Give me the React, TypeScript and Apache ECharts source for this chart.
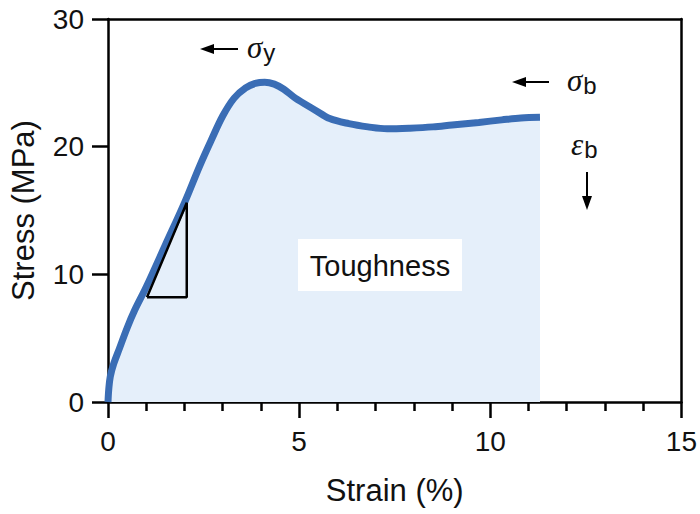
import React, { useEffect, useRef } from "react";
import * as echarts from "echarts";

const strain = [0, 0.02, 0.06, 0.15, 0.3, 0.5, 0.7, 1.0, 1.5, 2.0, 2.4, 2.7, 3.0, 3.3, 3.6, 3.85, 4.1, 4.35, 4.6, 4.9, 5.4, 5.8, 6.3, 6.8, 7.3, 7.9, 8.5, 9.0, 9.7, 10.3, 10.8, 11.3];
const stress = [0, 1.0, 2.0, 3.0, 4.2, 5.8, 7.2, 9.0, 12.3, 15.6, 18.5, 20.5, 22.4, 23.8, 24.6, 24.95, 25.05, 24.9, 24.5, 23.8, 22.9, 22.2, 21.8, 21.55, 21.4, 21.45, 21.55, 21.7, 21.9, 22.1, 22.25, 22.3];
const triangleX = [1.02, 2.06, 2.06, 1.02];
const triangleY = [8.2, 8.2, 15.6, 8.2];

const FONT = "Liberation Sans, Arial, sans-serif";
const SERIF = "Liberation Serif, Times New Roman, serif";

function arrow(x1: number, y1: number, x2: number, y2: number) {
  const dx = x2 - x1, dy = y2 - y1;
  const len = Math.sqrt(dx * dx + dy * dy);
  const ux = dx / len, uy = dy / len;
  const hl = 14, hw = 5;
  const bx = x2 - ux * hl, by = y2 - uy * hl;
  return [
    { type: "line", shape: { x1, y1, x2: bx + ux * 2, y2: by + uy * 2 }, style: { stroke: "#000", lineWidth: 2 } },
    {
      type: "polygon",
      shape: { points: [[x2, y2], [bx - uy * hw, by + ux * hw], [bx + uy * hw, by - ux * hw]] },
      style: { fill: "#000" },
    },
  ];
}

function symText(sym: string, sub: string, left: number, top: number) {
  return {
    type: "text",
    left,
    top,
    style: {
      text: `{s|${sym}}{b|${sub}}`,
      rich: {
        s: { fontFamily: SERIF, fontStyle: "italic", fontSize: 31, fill: "#111", lineHeight: 34 },
        b: { fontFamily: FONT, fontSize: 24, fill: "#111", padding: [10, 0, 0, 1], lineHeight: 34 },
      },
    },
  };
}

export default function App() {
  const ref = useRef<HTMLDivElement>(null);
  useEffect(() => {
    const chart = echarts.init(ref.current!, null, { renderer: "svg" });
    const curve = strain.map((x, i) => [x, stress[i]]);
    const tri = triangleX.map((x, i) => [x, triangleY[i]]);
    const axisLine = { onZero: false, lineStyle: { color: "#000", width: 2.5 } };
    chart.setOption({
      animation: false,
      backgroundColor: "#fff",
      grid: { left: 106, right: 18, top: 19, bottom: 112, containLabel: false },
      xAxis: [
        {
          type: "value",
          min: 0,
          max: 15,
          interval: 5,
          name: "Strain (%)",
          nameLocation: "middle",
          nameGap: 73,
          nameTextStyle: { fontFamily: FONT, fontSize: 31, color: "#111" },
          axisLine,
          axisTick: { show: true, length: 16, lineStyle: { color: "#000", width: 2.5 } },
          minorTick: { show: true, splitNumber: 5, length: 9, lineStyle: { color: "#000", width: 2.5 } },
          splitLine: { show: false },
          minorSplitLine: { show: false },
          axisLabel: { fontFamily: FONT, fontSize: 28, color: "#111", margin: 25 },
        },
        {
          type: "value",
          position: "top",
          min: 0,
          max: 15,
          axisLine,
          axisTick: { show: false },
          axisLabel: { show: false },
          splitLine: { show: false },
        },
      ],
      yAxis: [
        {
          type: "value",
          min: 0,
          max: 30,
          interval: 10,
          name: "Stress (MPa)",
          nameLocation: "middle",
          nameGap: 69,
          nameTextStyle: { fontFamily: FONT, fontSize: 31, color: "#111" },
          axisLine,
          axisTick: { show: true, length: 16, lineStyle: { color: "#000", width: 2.5 } },
          splitLine: { show: false },
          axisLabel: { fontFamily: FONT, fontSize: 28, color: "#111", margin: 24 },
        },
        {
          type: "value",
          position: "right",
          min: 0,
          max: 30,
          axisLine,
          axisTick: { show: false },
          axisLabel: { show: false },
          splitLine: { show: false },
        },
      ],
      series: [
        {
          type: "line",
          data: curve,
          smooth: 0.35,
          symbol: "none",
          lineStyle: { color: "#3a6db5", width: 7 },
          areaStyle: { color: "#e5effa", opacity: 1 },
          z: 2,
        },
        {
          type: "line",
          data: tri,
          symbol: "none",
          lineStyle: { color: "#000", width: 2.5 },
          z: 3,
        },
      ],
      graphic: [
        ...arrow(238, 49, 200, 49),
        symText("σ", "y", 247, 30),
        ...arrow(549, 82, 512, 82),
        symText("σ", "b", 567, 63),
        symText("ε", "b", 571, 127),
        ...arrow(587, 172, 587, 210),
        {
          type: "text",
          left: 194,
          top: 236,
          style: { text: "E", fontFamily: FONT, fontStyle: "italic", fontSize: 29, fill: "#111" },
        },
        {
          type: "rect",
          shape: { x: 298, y: 239, width: 164, height: 52 },
          style: { fill: "#fff" },
          z: 10,
        },
        {
          type: "text",
          x: 380,
          y: 266,
          style: {
            text: "Toughness",
            fontFamily: FONT,
            fontSize: 29,
            fill: "#111",
            align: "center",
            verticalAlign: "middle",
          },
          z: 11,
        },
      ],
    });
    return () => chart.dispose();
  }, []);
  return <div ref={ref} style={{ width: 700, height: 514, position: "absolute", left: 0, top: 0 }} />;
}
